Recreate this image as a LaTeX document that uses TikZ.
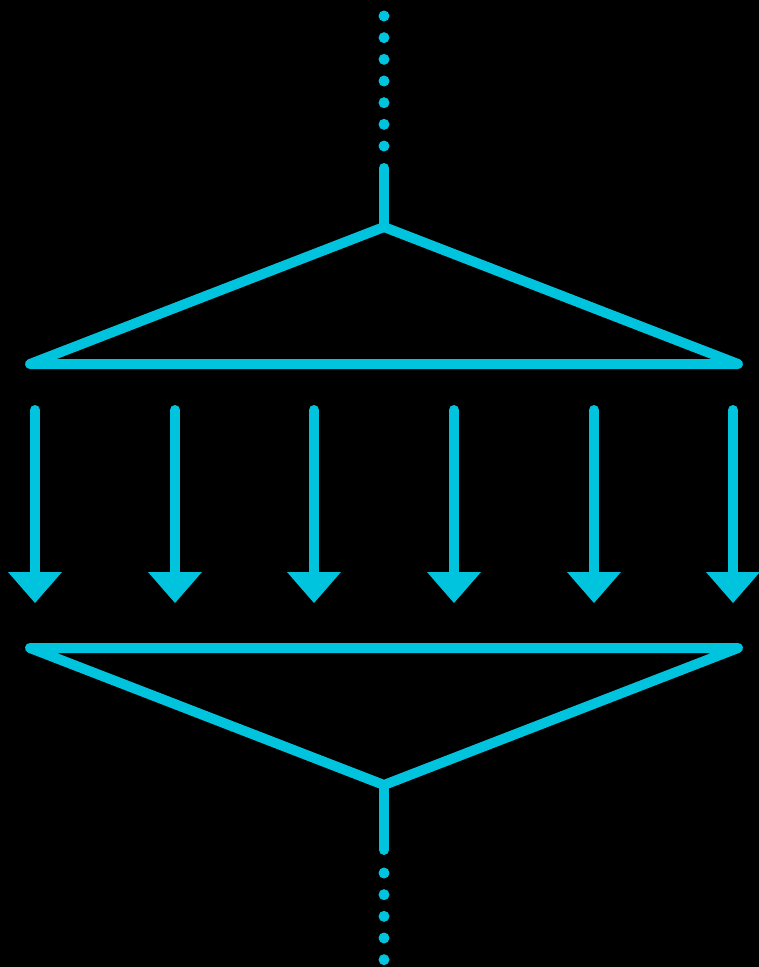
\documentclass[tikz,border=0pt]{standalone}
\usetikzlibrary{arrows.meta}
\definecolor{cy}{RGB}{0,195,222}
\tikzset{
  wire/.style={draw=cy, line width=10pt, line cap=round, line join=round},
  dots/.style={draw=cy, line width=11pt, line cap=round, dash pattern=on 0pt off 21.67pt},
  flow/.style={draw=cy, line width=10pt, line cap=round, -{Triangle[width=54pt,length=31pt,line width=0pt]}, fill=cy}
}
\begin{document}
\begin{tikzpicture}[x=1pt,y=-1pt]
\fill[black] (0,0) rectangle (759,967);
\useasboundingbox (0,0) rectangle (759,967);
% top part
\coordinate (td1) at (384,16);
\coordinate (td2) at (384,147.5);
\coordinate (ts) at (384,168);
\coordinate (tapex) at (384,227);
\coordinate (tl) at (30,364);
\coordinate (tr) at (738,364);
\draw[dots] (td1) -- (td2);
\draw[wire] (ts) -- (tapex);
\draw[wire] (tapex) -- (tl) -- (tr) -- cycle;
% arrows
\foreach \i/\x in {1/35,2/175,3/314,4/454,5/594,6/733}{
  \coordinate (a\i) at (\x,410);
  \coordinate (b\i) at (\x,603);
  \draw[flow] (a\i) -- (b\i);
}
% bottom part
\coordinate (bl) at (30,648);
\coordinate (br) at (738,648);
\coordinate (bapex) at (384,785);
\coordinate (bs) at (384,850);
\coordinate (bd1) at (384,873);
\coordinate (bd2) at (384,961.5);
\draw[wire] (bl) -- (br) -- (bapex) -- cycle;
\draw[wire] (bapex) -- (bs);
\draw[dots] (bd1) -- (bd2);
\end{tikzpicture}
\end{document}
